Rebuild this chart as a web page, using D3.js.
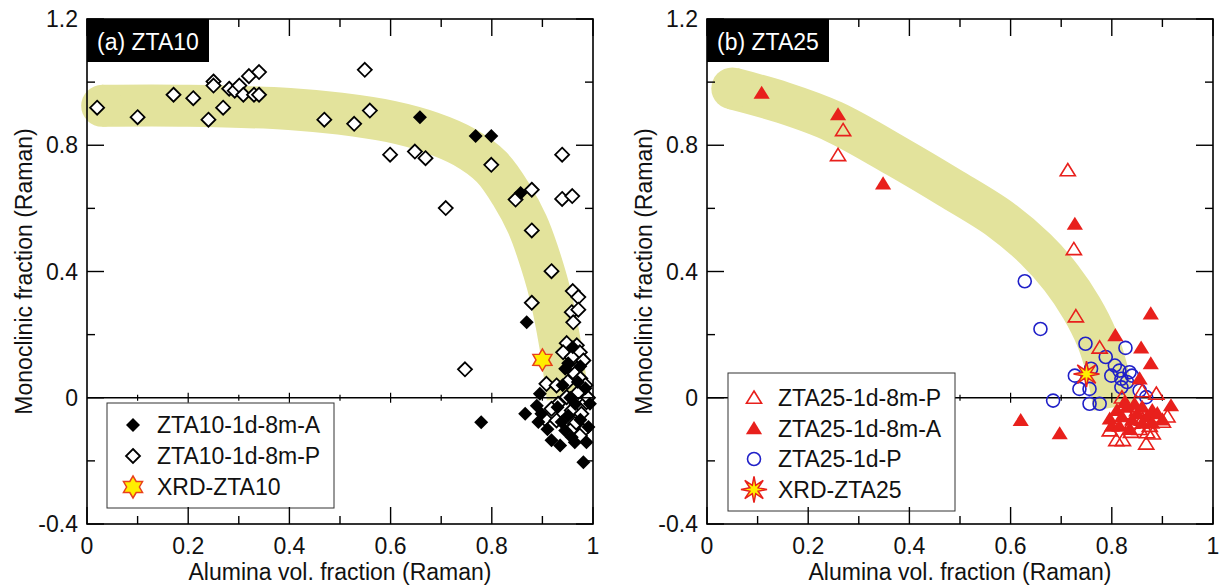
<!DOCTYPE html>
<html><head><meta charset="utf-8">
<script src="https://cdn.jsdelivr.net/npm/d3@7"></script>
<style>body{margin:0;background:#fff}svg{display:block}text{font-family:"Liberation Sans",Arial,sans-serif}</style>
</head><body><svg id="c" width="1222" height="588"></svg>
<script>
// ---------- DATA ----------
const xTicks = [0, 0.2, 0.4, 0.6, 0.8, 1];
const xTickLabels = ["0", "0.2", "0.4", "0.6", "0.8", "1"];
const yTicks = [-0.4, 0, 0.4, 0.8, 1.2];
const yTickLabels = ["-0.4", "0", "0.4", "0.8", "1.2"];

const zta10A = [[0.658,0.889],[0.768,0.829],[0.799,0.829],[0.857,0.649],[0.869,0.239],[0.779,-0.078],[0.866,-0.051],
 [0.895,0.013],[0.889,-0.025],[0.898,-0.051],[0.892,-0.077],[0.938,-0.077],[0.945,-0.104],[0.958,-0.125],[0.918,-0.135],
 [0.935,-0.151],[0.964,-0.141],[0.987,-0.141],[0.981,-0.204],[0.991,-0.093],[0.951,-0.056],[0.994,-0.019],[0.951,0.109],
 [0.945,0.092],[0.975,0.10],[0.93,-0.03],[0.965,-0.02],[0.985,0.03],[0.96,0.16],[0.97,0.05],[0.91,-0.10],[0.975,-0.07],
 [0.955,0.0],[0.94,0.04]];
const zta10P = [[0.02,0.919],[0.10,0.889],[0.171,0.96],[0.21,0.949],[0.24,0.881],[0.25,1.002],[0.25,0.989],[0.269,0.919],
 [0.281,0.979],[0.292,0.973],[0.301,0.989],[0.309,0.96],[0.32,1.019],[0.33,0.96],[0.34,0.96],[0.34,1.032],[0.469,0.881],
 [0.528,0.868],[0.549,1.039],[0.559,0.91],[0.599,0.77],[0.648,0.78],[0.669,0.759],[0.709,0.601],[0.799,0.738],[0.847,0.628],
 [0.879,0.659],[0.879,0.53],[0.939,0.77],[0.939,0.63],[0.959,0.639],[0.747,0.09],[0.918,0.401],[0.879,0.301],[0.96,0.338],
 [0.971,0.319],[0.958,0.271],[0.971,0.279],[0.961,0.239],[0.948,0.173],[0.968,0.166],[0.941,0.144],[0.974,0.144],[0.958,0.128],
 [0.981,0.118],[0.968,0.092],[0.908,0.044],[0.928,0.039],[0.964,0.076],[0.975,0.061],[0.971,0.018],[0.987,-0.014],[0.948,0.002],
 [0.931,-0.019],[0.958,-0.04],[0.977,-0.051],[0.918,-0.035],[0.905,-0.067],[0.928,-0.072],[0.964,-0.083],[0.981,-0.104],
 [0.955,-0.104],[0.974,-0.12],[0.99,0.0],[0.985,0.04],[0.95,0.05]];
const xrdZta10 = [[0.90, 0.12]];
const bandA = [[0.03,0.925],[0.2,0.925],[0.4,0.915],[0.5,0.9],[0.6,0.875],[0.68,0.84],[0.745,0.795],[0.8,0.73],[0.84,0.64],
 [0.87,0.55],[0.89,0.465],[0.915,0.33],[0.935,0.17],[0.95,0.0]];

const zta25P = [[0.269,0.847],[0.259,0.768],[0.713,0.72],[0.729,0.257],[0.776,0.158],[0.725,0.47],[0.888,0.012],[0.901,-0.077],
 [0.91,-0.06],[0.796,-0.104],[0.809,-0.135],[0.822,-0.135],[0.838,-0.109],[0.855,-0.10],[0.87,-0.11],[0.881,-0.114],[0.868,-0.146],
 [0.84,-0.08],[0.86,-0.07],[0.83,-0.05],[0.85,-0.04],[0.82,0.0],[0.86,0.02],[0.89,-0.06],[0.875,-0.09]];
const zta25A = [[0.108,0.965],[0.259,0.897],[0.348,0.678],[0.727,0.55],[0.807,0.197],[0.858,0.158],[0.877,0.266],[0.877,0.108],
 [0.855,0.06],[0.917,-0.025],[0.62,-0.072],[0.697,-0.114],[0.796,-0.067],[0.81,-0.04],[0.82,-0.06],[0.83,-0.03],[0.84,-0.07],
 [0.85,-0.05],[0.86,-0.03],[0.87,-0.06],[0.88,-0.04],[0.89,-0.05],[0.80,-0.09],[0.815,-0.09],[0.835,-0.10],[0.845,-0.02],
 [0.86,-0.08],[0.88,-0.08],[0.90,-0.07],[0.825,-0.015]];
const zta25C = [[0.628,0.369],[0.659,0.218],[0.748,0.171],[0.827,0.158],[0.788,0.129],[0.806,0.102],[0.727,0.07],[0.684,-0.009],
 [0.736,0.028],[0.756,0.028],[0.756,-0.019],[0.776,-0.019],[0.799,0.07],[0.815,0.086],[0.835,0.081],[0.819,0.06],[0.819,0.033],
 [0.855,0.023],[0.868,0.002],[0.759,0.092],[0.84,0.07],[0.83,0.05]];
const xrdZta25 = [[0.75, 0.075]];
const bandB = [[0.05,0.98],[0.15,0.935],[0.25,0.875],[0.38,0.76],[0.48,0.665],[0.58,0.565],[0.65,0.47],[0.7,0.38],[0.74,0.285],
 [0.77,0.19],[0.79,0.09],[0.805,-0.03]];

const legendA = ["ZTA10-1d-8m-A", "ZTA10-1d-8m-P", "XRD-ZTA10"];
const legendB = ["ZTA25-1d-8m-P", "ZTA25-1d-8m-A", "ZTA25-1d-P", "XRD-ZTA25"];

// ---------- STYLE / MARKERS ----------
const BAND = "#e3e39c", RED = "#e8201c", BLUE = "#2020c8";
const diamond = r => `M0,${-r}L${r},0L0,${r}L${-r},0Z`;
const tri = r => `M0,${-r}L${r*1.08},${r*0.75}L${-r*1.08},${r*0.75}Z`;
function starPath(n, ro, ri, rot) {
  const pts = [];
  for (let i = 0; i < 2*n; i++) {
    const a = rot + i*Math.PI/n, r = i%2 ? ri : ro;
    pts.push([r*Math.sin(a), -r*Math.cos(a)]);
  }
  return "M" + pts.map(p => p[0].toFixed(2)+","+p[1].toFixed(2)).join("L") + "Z";
}
const markers = {
  dFill: g => g.append("path").attr("d", diamond(7)).attr("fill", "#000"),
  dOpen: g => g.append("path").attr("d", diamond(7)).attr("fill", "#fff").attr("stroke", "#000").attr("stroke-width", 1.8),
  hex: g => g.append("path").attr("d", starPath(6, 11, 6.4, 0)).attr("fill", "#ffee00").attr("stroke", "#e8401c").attr("stroke-width", 1.5),
  tOpen: g => g.append("path").attr("d", tri(7)).attr("fill", "none").attr("stroke", RED).attr("stroke-width", 1.6),
  tFill: g => g.append("path").attr("d", tri(7.5)).attr("fill", RED),
  circ: g => g.append("circle").attr("r", 6.5).attr("fill", "none").attr("stroke", BLUE).attr("stroke-width", 1.6),
  burst: g => { g.append("path").attr("d", starPath(8, 13, 4.5, 0)).attr("fill", "#ffee00").attr("stroke", RED).attr("stroke-width", 1.5); }
};

const svg = d3.select("#c");
const plotTop = 19, plotBottom = 524;
const y = d3.scaleLinear().domain([-0.4, 1.2]).range([plotBottom, plotTop]);

function panel(left, right, title, band, series, legend, legBox) {
  const x = d3.scaleLinear().domain([0, 1]).range([left, right]);
  const g = svg.append("g");
  // band
  const line = d3.line().x(d => x(d[0])).y(d => y(d[1])).curve(d3.curveCatmullRom);
  g.append("path").attr("d", line(band)).attr("fill", "none").attr("stroke", BAND)
    .attr("stroke-width", 42).attr("stroke-linecap", "butt").attr("stroke-linejoin", "round");
  g.append("circle").attr("cx", x(band[0][0])).attr("cy", y(band[0][1])).attr("r", 21).attr("fill", BAND);
  // zero line with small ticks
  g.append("line").attr("x1", left).attr("x2", right).attr("y1", y(0)).attr("y2", y(0)).attr("stroke", "#000").attr("stroke-width", 1.5);
  d3.range(1, 10).forEach(i => {
    const v = i/10, h = (i % 2 === 0) ? 5 : 3;
    g.append("line").attr("x1", x(v)).attr("x2", x(v)).attr("y1", y(0)-h).attr("y2", y(0)+h).attr("stroke", "#000").attr("stroke-width", 1.2);
  });
  // points
  series.forEach(s => {
    s.data.forEach(d => {
      const m = g.append("g").attr("transform", `translate(${x(d[0])},${y(d[1])})`);
      markers[s.marker](m);
    });
  });
  // legend
  const lg = g.append("g");
  lg.append("rect").attr("x", legBox.x).attr("y", legBox.y).attr("width", legBox.w).attr("height", legBox.h)
    .attr("fill", "#fff").attr("stroke", "#333").attr("stroke-width", 1);
  legend.forEach((name, i) => {
    const yy = legBox.row0 + i*legBox.dy;
    const m = lg.append("g").attr("transform", `translate(${legBox.mx},${yy})`);
    markers[legBox.marks[i]](m);
    lg.append("text").attr("x", legBox.tx).attr("y", yy + 8).attr("font-size", 23).attr("fill", "#111").text(name);
  });
  // frame
  g.append("rect").attr("x", left).attr("y", plotTop).attr("width", right-left).attr("height", plotBottom-plotTop)
    .attr("fill", "none").attr("stroke", "#000").attr("stroke-width", 1.6);
  // x ticks (major 0.2, minor 0.1), bottom and top, inward
  d3.range(0, 11).forEach(i => {
    const v = i/10, len = (i % 2 === 0) ? 17 : 8;
    g.append("line").attr("x1", x(v)).attr("x2", x(v)).attr("y1", plotBottom).attr("y2", plotBottom-len).attr("stroke", "#000").attr("stroke-width", 1.4);
    g.append("line").attr("x1", x(v)).attr("x2", x(v)).attr("y1", plotTop).attr("y2", plotTop+len).attr("stroke", "#000").attr("stroke-width", 1.4);
  });
  // y ticks (major 0.4, minor 0.2), left and right, inward
  d3.range(0, 9).forEach(i => {
    const v = -0.4 + i*0.2, len = (i % 2 === 0) ? 17 : 8;
    g.append("line").attr("x1", left).attr("x2", left+len).attr("y1", y(v)).attr("y2", y(v)).attr("stroke", "#000").attr("stroke-width", 1.4);
    g.append("line").attr("x1", right).attr("x2", right-len).attr("y1", y(v)).attr("y2", y(v)).attr("stroke", "#000").attr("stroke-width", 1.4);
  });
  // tick labels
  xTicks.forEach((v, i) => g.append("text").attr("x", x(v)).attr("y", 554).attr("text-anchor", "middle")
    .attr("font-size", 23).attr("fill", "#111").text(xTickLabels[i]));
  yTicks.forEach((v, i) => g.append("text").attr("x", left - 9).attr("y", y(v) + 8).attr("text-anchor", "end")
    .attr("font-size", 23).attr("fill", "#111").text(yTickLabels[i]));
  // axis titles
  g.append("text").attr("x", (left+right)/2).attr("y", 580).attr("text-anchor", "middle").attr("font-size", 23)
    .attr("fill", "#111").text("Alumina vol. fraction (Raman)");
  g.append("text").attr("transform", `translate(${left-55},${(plotTop+plotBottom)/2}) rotate(-90)`).attr("text-anchor", "middle")
    .attr("font-size", 23).attr("fill", "#111").text("Monoclinic fraction (Raman)");
  // title box
  g.append("rect").attr("x", left).attr("y", plotTop).attr("width", 122).attr("height", 43).attr("fill", "#000");
  g.append("text").attr("x", left + 10).attr("y", plotTop + 31).attr("font-size", 23).attr("fill", "#fff").text(title);
}

panel(87, 593, "(a) ZTA10", bandA,
  [{data: zta10P, marker: "dOpen"}, {data: zta10A, marker: "dFill"}, {data: xrdZta10, marker: "hex"}],
  legendA, {x: 107, y: 403, w: 227, h: 105, row0: 425, dy: 31, mx: 133, tx: 157, marks: ["dFill", "dOpen", "hex"]});

panel(707, 1213, "(b) ZTA25", bandB,
  [{data: zta25C, marker: "circ"}, {data: zta25P, marker: "tOpen"}, {data: zta25A, marker: "tFill"}, {data: xrdZta25, marker: "burst"}],
  legendB, {x: 728, y: 373, w: 227, h: 138, row0: 398, dy: 30.5, mx: 754, tx: 778, marks: ["tOpen", "tFill", "circ", "burst"]});
</script></body></html>
